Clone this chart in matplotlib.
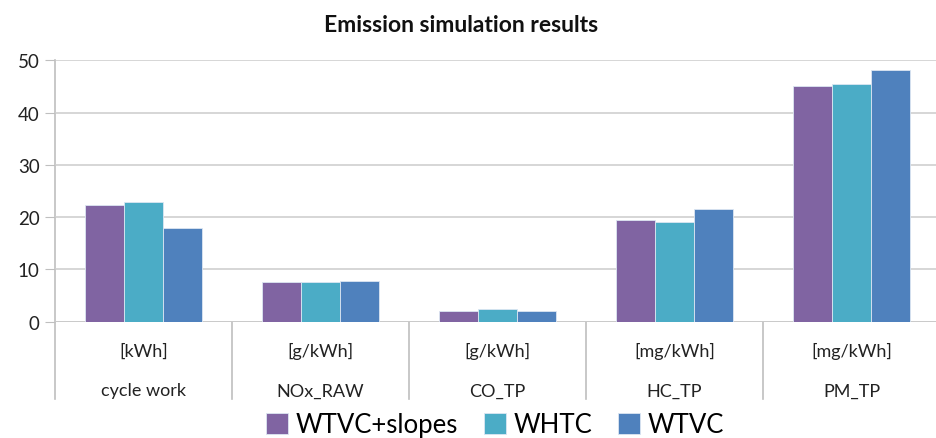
import numpy as np
import matplotlib
matplotlib.use('Agg')
import matplotlib.pyplot as plt
import matplotlib.transforms as mtransforms

plt.rcParams['font.family'] = ['Lato', 'DejaVu Sans']

categories = ['cycle work', 'NOx_RAW', 'CO_TP', 'HC_TP', 'PM_TP']
units = ['[kWh]', '[g/kWh]', '[g/kWh]', '[mg/kWh]', '[mg/kWh]']
series_names = ['WTVC+slopes', 'WHTC', 'WTVC']
wtvc_slopes = [22.4, 7.5, 2.0, 19.4, 45.1]
whtc = [22.9, 7.65, 2.35, 19.1, 45.4]
wtvc = [18.0, 7.85, 2.0, 21.5, 48.1]
colors = ['#8064A2', '#4BACC6', '#4F81BD']

fig = plt.figure(figsize=(9.36, 4.39), dpi=100)
ax = fig.add_axes([55 / 936, (439 - 322.7) / 439, 885 / 936, 261.4 / 439])

x = np.arange(len(categories))
w = 0.22
for i, (vals, c, name) in enumerate(zip([wtvc_slopes, whtc, wtvc], colors, series_names)):
    ax.bar(x + (i - 1) * w, vals, w, color=c, edgecolor='#DCE6F2', linewidth=0.6, label=name, zorder=3)

ax.set_xlim(-0.5, 4.5)
ax.set_ylim(0, 50)
ax.set_yticks([0, 10, 20, 30, 40, 50])
ax.grid(axis='y', color='#D0D0D0', linewidth=1.2, zorder=0)
for s in ['top', 'right', 'bottom', 'left']:
    ax.spines[s].set_visible(False)
ax.axhline(0, color='#C8C8C8', linewidth=1.2, zorder=2)
ax.tick_params(axis='y', length=7, color='#BFBFBF', labelsize=13.5, pad=4, labelcolor='#222222')
ax.tick_params(axis='x', length=0, labelbottom=False)

# y axis line and category separators run down through the two label rows
trans = mtransforms.blended_transform_factory(ax.transData, ax.transAxes)
for sx in [-0.5, 0.5, 1.5, 2.5, 3.5]:
    top = 1.0 if sx == -0.5 else 0.0
    ax.plot([sx, sx], [top, -0.296], color='#BFBFBF', linewidth=1.2, transform=trans, clip_on=False, zorder=1)

for xi, u, n in zip(x, units, categories):
    ax.text(xi, -0.112, u, transform=trans, ha='center', va='center', fontsize=13, color='#222222')
    ax.text(xi, -0.263, n, transform=trans, ha='center', va='center', fontsize=13, color='#222222')

fig.text(0.493, 1 - 25 / 439, 'Emission simulation results', ha='center', va='center',
         fontsize=16.5, fontweight='bold', color='#111111')

handles, labels = ax.get_legend_handles_labels()
fig.legend(handles, labels, loc='center', bbox_to_anchor=(0.529, 1 - 426 / 439), ncol=3,
           frameon=False, fontsize=18.5, handlelength=0.85, handleheight=0.85, handletextpad=0.3,
           columnspacing=1.0, borderaxespad=0)

fig.savefig('out.png', dpi=100)
